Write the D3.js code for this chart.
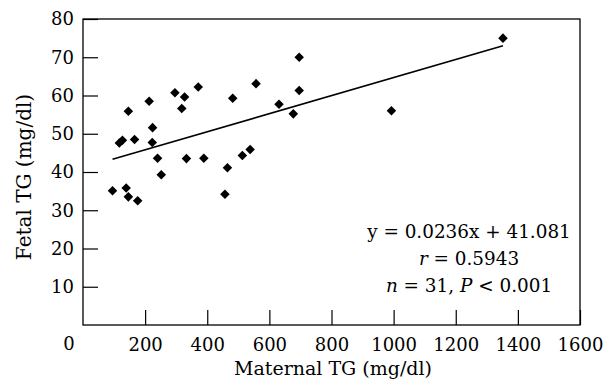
<!DOCTYPE html>
<html>
<head>
<meta charset="utf-8">
<script src="https://cdn.jsdelivr.net/npm/d3@7"></script>
<style>
  html, body { margin: 0; padding: 0; background: #fff; }
  svg { display: block; }
  text { font-family: "DejaVu Serif", "Liberation Serif", serif; fill: #000; }
</style>
</head>
<body>
<svg id="chart" width="606" height="387"></svg>
<script>
// Data
const maternalTG = [95, 139, 146, 176, 117, 127, 146, 166, 213, 224, 223, 240, 252, 296, 327, 318, 333, 371, 389, 457, 465, 482, 513, 538, 557, 631, 677, 696, 696, 993, 1352];
const fetalTG    = [35.1, 35.8, 33.5, 32.5, 47.6, 48.3, 55.9, 48.5, 58.5, 51.6, 47.7, 43.6, 39.3, 60.7, 59.6, 56.6, 43.5, 62.2, 43.6, 34.2, 41.1, 59.3, 44.3, 45.9, 63.1, 57.7, 55.2, 61.3, 70.0, 56.0, 75.0];
const slope = 0.0236;
const intercept = 41.081;
const xTicks = [200, 400, 600, 800, 1000, 1200, 1400, 1600];
const yTicks = [10, 20, 30, 40, 50, 60, 70, 80];
const statsLines = [
  [{t: "y = 0.0236x + 41.081", i: false}],
  [{t: "r", i: true}, {t: " = 0.5943", i: false}],
  [{t: "n", i: true}, {t: " = 31, ", i: false}, {t: "P", i: true}, {t: " < 0.001", i: false}]
];
const xTitle = "Maternal TG (mg/dl)";
const yTitle = "Fetal TG (mg/dl)";

const svg = d3.select("#chart");
const mL = 83, mR = 580, mT = 19, mB = 325;
const x = d3.scaleLinear().domain([0, 1600]).range([mL, mR]);
const y = d3.scaleLinear().domain([0, 80]).range([mB, mT]);
const fs = 18;

// frame
svg.append("rect").attr("x", mL).attr("y", mT)
  .attr("width", mR - mL).attr("height", mB - mT)
  .attr("fill", "none").attr("stroke", "#000").attr("stroke-width", 1.3);

// x axis (ticks inward)
const xAxis = d3.axisBottom(x).tickValues(xTicks).tickFormat(d3.format("d"))
  .tickSizeInner(-15).tickSizeOuter(0).tickPadding(13);
const gx = svg.append("g").attr("transform", `translate(0,${mB})`).call(xAxis);
gx.select(".domain").remove();
gx.selectAll(".tick line").attr("stroke", "#000").attr("stroke-width", 1.2);
gx.selectAll(".tick text").style("font-size", fs + "px").style("font-family", "DejaVu Serif");

// y axis (ticks inward)
const yAxis = d3.axisLeft(y).tickValues(yTicks).tickFormat(d3.format("d"))
  .tickSizeInner(-15).tickSizeOuter(0).tickPadding(9);
const gy = svg.append("g").attr("transform", `translate(${mL},0)`).call(yAxis);
gy.select(".domain").remove();
gy.selectAll(".tick line").attr("stroke", "#000").attr("stroke-width", 1.2);
gy.selectAll(".tick text").style("font-size", fs + "px").style("font-family", "DejaVu Serif");

// shared origin label
svg.append("text").attr("x", x(0) - 14).attr("y", mB + 25)
  .attr("text-anchor", "middle").attr("font-size", fs).text("0");

// regression line across data range
const xMin = d3.min(maternalTG), xMax = d3.max(maternalTG);
svg.append("line")
  .attr("x1", x(xMin)).attr("y1", y(slope * xMin + intercept))
  .attr("x2", x(xMax)).attr("y2", y(slope * xMax + intercept))
  .attr("stroke", "#000").attr("stroke-width", 1.6);

// points
const diamond = d3.symbol().type(d3.symbolDiamond2).size(58);
svg.append("g").selectAll("path")
  .data(maternalTG.map((v, i) => [v, fetalTG[i]]))
  .join("path")
  .attr("transform", d => `translate(${x(d[0])},${y(d[1])})`)
  .attr("d", diamond)
  .attr("fill", "#000");

// stats text
const st = svg.append("text").attr("text-anchor", "middle").attr("font-size", 18.4);
statsLines.forEach((line, li) => {
  line.forEach((seg, si) => {
    const ts = st.append("tspan").text(seg.t)
      .attr("font-style", seg.i ? "italic" : "normal");
    if (si === 0) ts.attr("x", 469).attr("y", 238 + li * 27);
  });
});

// axis titles
svg.append("text").attr("x", 333).attr("y", 375).attr("text-anchor", "middle")
  .attr("font-size", 19).text(xTitle);
svg.append("text").attr("transform", "translate(31,177) rotate(-90)")
  .attr("text-anchor", "middle").attr("font-size", 20).text(yTitle);
</script>
</body>
</html>
